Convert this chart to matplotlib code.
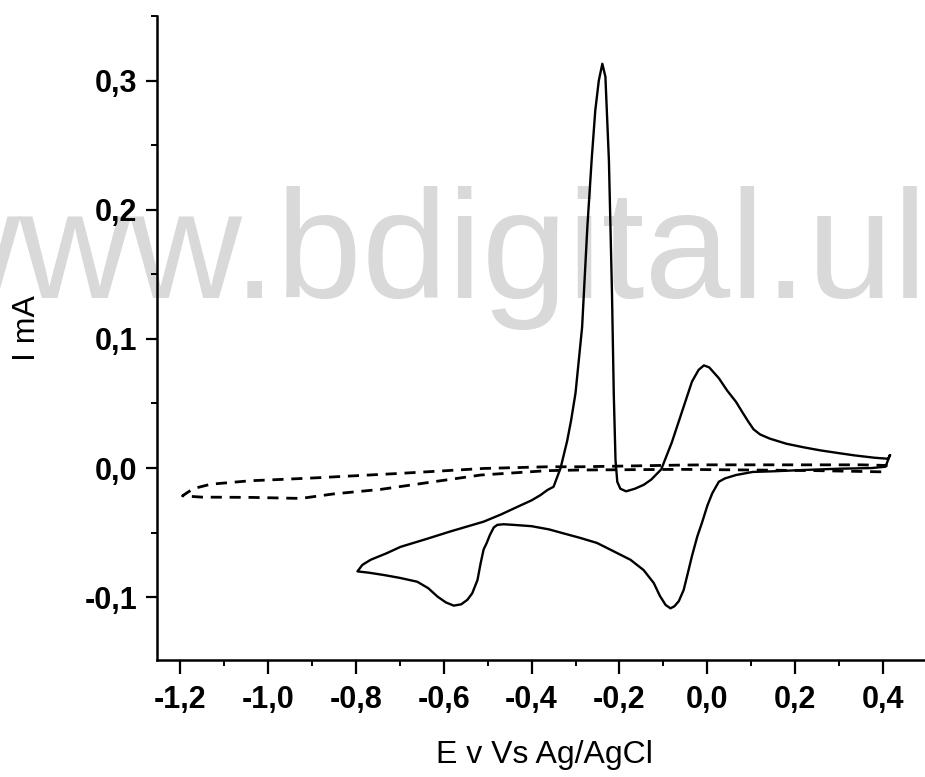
import matplotlib
matplotlib.use("Agg")
from matplotlib import pyplot as plt
from matplotlib.ticker import MultipleLocator, FuncFormatter

# solid CV: cathodic sweep (0.4 -> -0.8), then anodic sweep back to 0.4
cv_E = [0.415, 0.405, 0.373, 0.30, 0.218, 0.15, 0.103, 0.065, 0.04, 0.026, 0.011, 0.0,
        -0.012, -0.023, -0.035, -0.045, -0.054, -0.065, -0.075, -0.084, -0.095, -0.108,
        -0.122, -0.145, -0.175, -0.21, -0.251, -0.29, -0.327, -0.36, -0.40, -0.44,
        -0.464, -0.478, -0.486, -0.495, -0.502, -0.509, -0.516, -0.523, -0.535, -0.546,
        -0.56, -0.577, -0.595, -0.614, -0.635, -0.66, -0.70, -0.736, -0.77, -0.796,
        -0.785, -0.766, -0.73, -0.698, -0.64, -0.584, -0.509, -0.47, -0.432, -0.40,
        -0.38, -0.364, -0.35, -0.334, -0.319, -0.310, -0.30, -0.285, -0.273, -0.263,
        -0.255, -0.247, -0.239, -0.232, -0.224, -0.217, -0.213, -0.209, -0.205, -0.198,
        -0.185, -0.165, -0.145, -0.128, -0.105, -0.081, -0.058, -0.035, -0.02, -0.008,
        0.004, 0.026, 0.045, 0.065, 0.08, 0.093, 0.105, 0.12, 0.142, 0.18, 0.22, 0.257,
        0.30, 0.335, 0.38, 0.411, 0.415]
cv_I = [0.0098, 0.001, 0.0, -0.0005, -0.0015, -0.0025, -0.003, -0.0054, -0.008, -0.0106,
        -0.0196, -0.029, -0.042, -0.053, -0.068, -0.082, -0.0944, -0.103, -0.107, -0.1086,
        -0.106, -0.099, -0.089, -0.079, -0.071, -0.065, -0.058, -0.054, -0.0506, -0.0475,
        -0.045, -0.044, -0.0435, -0.044, -0.046, -0.052, -0.058, -0.063, -0.074, -0.0867,
        -0.097, -0.102, -0.1055, -0.1065, -0.104, -0.0995, -0.093, -0.088, -0.085, -0.0828,
        -0.081, -0.080,
        -0.075, -0.071, -0.066, -0.061, -0.055, -0.049, -0.0415, -0.036, -0.030, -0.025,
        -0.021, -0.017, -0.0145, 0.0, 0.021, 0.037, 0.058, 0.109, 0.187, 0.24,
        0.277, 0.300, 0.313, 0.303, 0.238, 0.135, 0.058, 0.006, -0.0106, -0.016,
        -0.018, -0.016, -0.013, -0.009, -0.001, 0.0198, 0.0434, 0.067, 0.076, 0.0795,
        0.078, 0.0696, 0.060, 0.0513, 0.043, 0.036, 0.030, 0.026, 0.0228, 0.0188, 0.016,
        0.0137, 0.0115, 0.0098, 0.008, 0.0072, 0.0098]

# dashed blank scan
blank_E = [0.41, 0.35, 0.2, 0.0, -0.061, -0.289, -0.364, -0.509, -0.698, -0.887, -0.97,
           -1.039, -1.13, -1.17, -1.194, -1.15, -1.039, -0.925, -0.85, -0.743, -0.623,
           -0.516, -0.364, -0.289, -0.061, 0.1, 0.25, 0.41]
blank_I = [0.002, 0.0025, 0.0025, 0.0025, 0.0023, 0.001, 0.001, -0.0003, -0.0041, -0.0075,
           -0.0088, -0.0098, -0.0125, -0.016, -0.0215, -0.0225, -0.0227, -0.0235, -0.020,
           -0.0165, -0.0106, -0.0054, -0.002, -0.0015, -0.001, -0.0015, -0.002, -0.003]

plt.rcParams['font.family'] = ['Liberation Sans', 'DejaVu Sans']

fig = plt.figure(figsize=(9.25, 7.77), dpi=100)
ax = fig.add_axes([157/925, 1 - 660/777, 768/925, 644/777])
ax.set_facecolor('none')

# watermark behind everything
ax.text(927/925, 1 - 298/777, 'www.bdigital.ul', transform=fig.transFigure,
        ha='right', va='baseline', fontsize=111, color='#d9d9d9', zorder=0, clip_on=False)

ax.plot(cv_E, cv_I, color='black', linewidth=1.7, zorder=3)
ax.plot(blank_E, blank_I, color='black', linewidth=2.0, dashes=(4, 2.8), zorder=3)

ax.set_xlim(-1.252, 0.495)
ax.set_ylim(-0.1486, 0.35)

ax.spines['top'].set_visible(False)
ax.spines['right'].set_visible(False)
ax.spines['left'].set_linewidth(1.8)
ax.spines['bottom'].set_linewidth(1.8)

ax.xaxis.set_major_locator(MultipleLocator(0.2))
ax.xaxis.set_minor_locator(MultipleLocator(0.1))
ax.yaxis.set_major_locator(MultipleLocator(0.1))
ax.yaxis.set_minor_locator(MultipleLocator(0.05))
comma = FuncFormatter(lambda v, p: f"{v:.1f}".replace('.', ',').replace('-0,0', '0,0'))
ax.xaxis.set_major_formatter(comma)
ax.yaxis.set_major_formatter(comma)

ax.tick_params(which='major', direction='out', length=8, width=1.6, labelsize=22, pad=6)
ax.tick_params(which='minor', direction='out', length=4.5, width=1.4)
ax.tick_params(axis='x', which='major', length=10, pad=8)
for lab in ax.get_xticklabels() + ax.get_yticklabels():
    lab.set_fontweight('bold')

ax.set_xlabel('E v Vs Ag/AgCl', fontsize=23)
ax.set_ylabel('I mA', fontsize=23)
ax.xaxis.set_label_coords(0.504, -0.125)
ax.yaxis.set_label_coords(-0.15, 0.516)

fig.savefig('out.png', dpi=100)
